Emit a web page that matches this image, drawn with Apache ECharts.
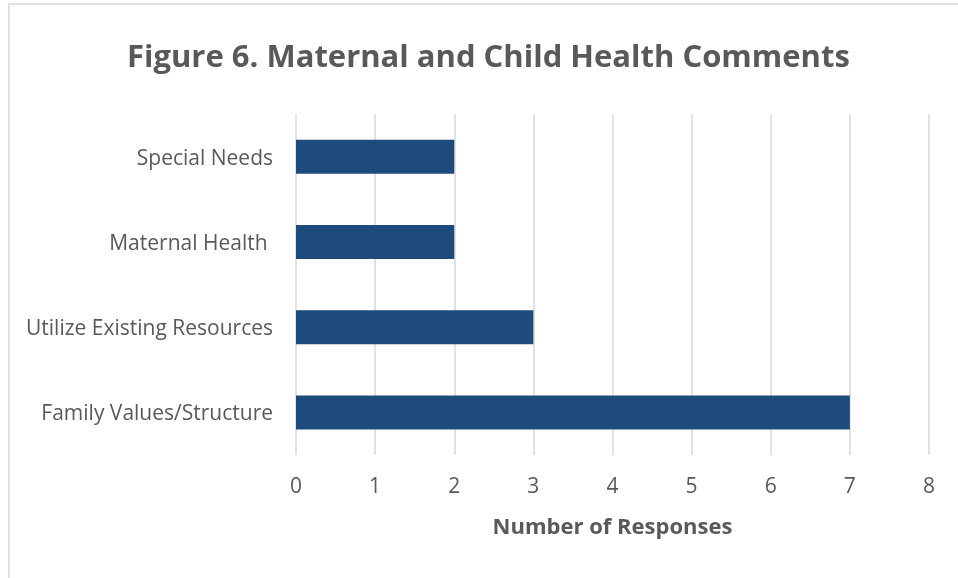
<!DOCTYPE html>
<html>
<head>
<meta charset="utf-8">
<script src="https://cdn.jsdelivr.net/npm/echarts@6/dist/echarts.min.js"></script>
<style>
  html, body { margin: 0; padding: 0; background: #fff; }
  #main { width: 958px; height: 578px; }
</style>
</head>
<body>
<div id="main"></div>
<script>
  // data, bottom to top
  var categories = ['Family Values/Structure', 'Utilize Existing Resources', 'Maternal Health ', 'Special Needs']
  var responses = [7, 3, 2, 2]
  var tickMax = 8

  var font = '"Open Sans", Lato, sans-serif'
  var chart = echarts.init(document.getElementById('main'))
  chart.setOption({
    animation: false,
    title: {
      text: 'Figure 6. Maternal and Child Health Comments',
      left: 122,
      top: 38,
      textStyle: { fontFamily: font, fontSize: 31, fontWeight: 'bold', color: '#595959' }
    },
    graphic: [{
      type: 'rect',
      shape: { x: 9, y: 4, width: 1000, height: 700 },
      style: { fill: 'none', stroke: '#d9d9d9', lineWidth: 1.5 },
      silent: true
    }],
    grid: { left: 296, right: 29, top: 114, bottom: 123 },
    xAxis: {
      type: 'value',
      min: 0,
      max: tickMax,
      interval: 1,
      name: 'Number of Responses',
      nameLocation: 'middle',
      nameGap: 62,
      nameTextStyle: { fontFamily: font, fontSize: 22, fontWeight: 'bold', color: '#595959' },
      axisLine: { show: false },
      axisTick: { show: false },
      axisLabel: { fontFamily: font, fontSize: 21, color: '#595959', margin: 22 },
      splitLine: { show: true, lineStyle: { color: '#d9d9d9', width: 1.5 } }
    },
    yAxis: {
      type: 'category',
      data: categories,
      axisLine: { show: false },
      axisTick: { show: false },
      axisLabel: { fontFamily: font, fontSize: 21, color: '#595959', margin: 23, lineHeight: 30, verticalAlign: 'top', padding: [-13, 0, 0, 0] }
    },
    series: [{
      type: 'bar',
      data: responses,
      barWidth: 34,
      itemStyle: { color: '#1F4A7C' }
    }]
  })
</script>
</body>
</html>
